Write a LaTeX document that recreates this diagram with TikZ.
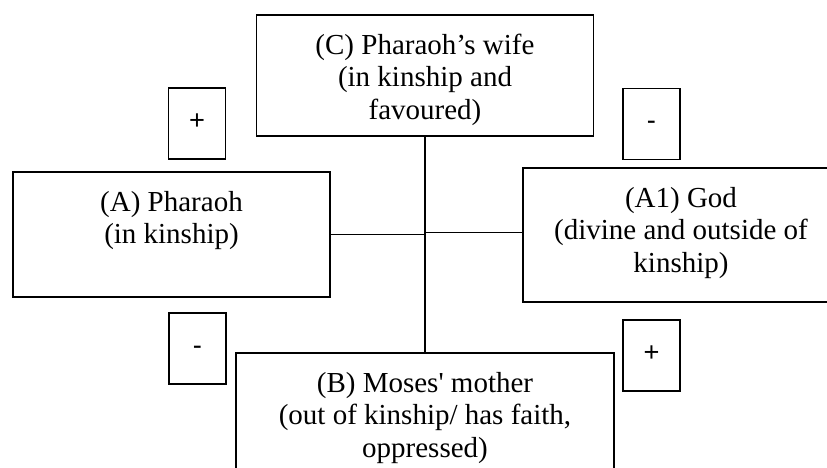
\documentclass[tikz,border=0pt]{standalone}
\usepackage{fontspec}
\setmainfont{Liberation Serif}
\newfontfamily\signfont{Liberation Sans}
\usetikzlibrary{positioning}

\begin{document}
\begin{tikzpicture}[line width=0.7pt,
    box/.style={shape=rectangle, draw=black, inner sep=0pt},
    boxtext/.style={align=center, inner sep=0pt, font=\fontsize{16.5}{18.5}\selectfont},
    sign/.style={shape=rectangle, draw=black, minimum width=1.14cm, minimum height=1.42cm, inner sep=0pt,
        text height=0.3cm, text depth=0.06cm, font=\signfont\fontsize{15.5}{18}\selectfont}]
    \useasboundingbox (0,0) rectangle (16.54,9.36);

    % the four persons
    \node[box, minimum width=6.74cm, minimum height=2.42cm] (C) at (8.5,7.85) {};
    \node[boxtext, below=0.38cm of C.north] (Ctext) {(C) Pharaoh’s wife\\(in kinship and\\favoured)};
    \node[box, minimum width=6.34cm, minimum height=2.5cm] (A) at (3.43,4.67) {};
    \node[boxtext, below=0.38cm of A.north] (Atext) {(A) Pharaoh\\(in kinship)};
    \node[box, minimum width=6.32cm, minimum height=2.68cm] (A1) at (13.62,4.66) {};
    \node[boxtext, below=0.38cm of A1.north] (A1text) {(A1) God\\(divine and outside of\\kinship)};
    \node[box, minimum width=7.56cm, minimum height=2.5cm] (B) at (8.5,1.05) {};
    \node[boxtext, below=0.38cm of B.north] (Btext) {(B) Moses\textquotesingle{} mother\\(out of kinship/ has faith,\\oppressed)};

    % signs
    \node[sign] (plusA) at (3.94,6.89) {+};
    \node[sign] (minusA1) at (13.03,6.88) {-};
    \node[sign] (minusB) at (3.95,2.39) {-};
    \node[sign] (plusB) at (13.03,2.25) {+};

    \coordinate (J) at (8.5,4.71);
    \draw (C.south) -- (B.north);
    \draw (A.east) -- (A.east -| J);
    \draw (J) -- (J -| A1.west);
\end{tikzpicture}
\end{document}
